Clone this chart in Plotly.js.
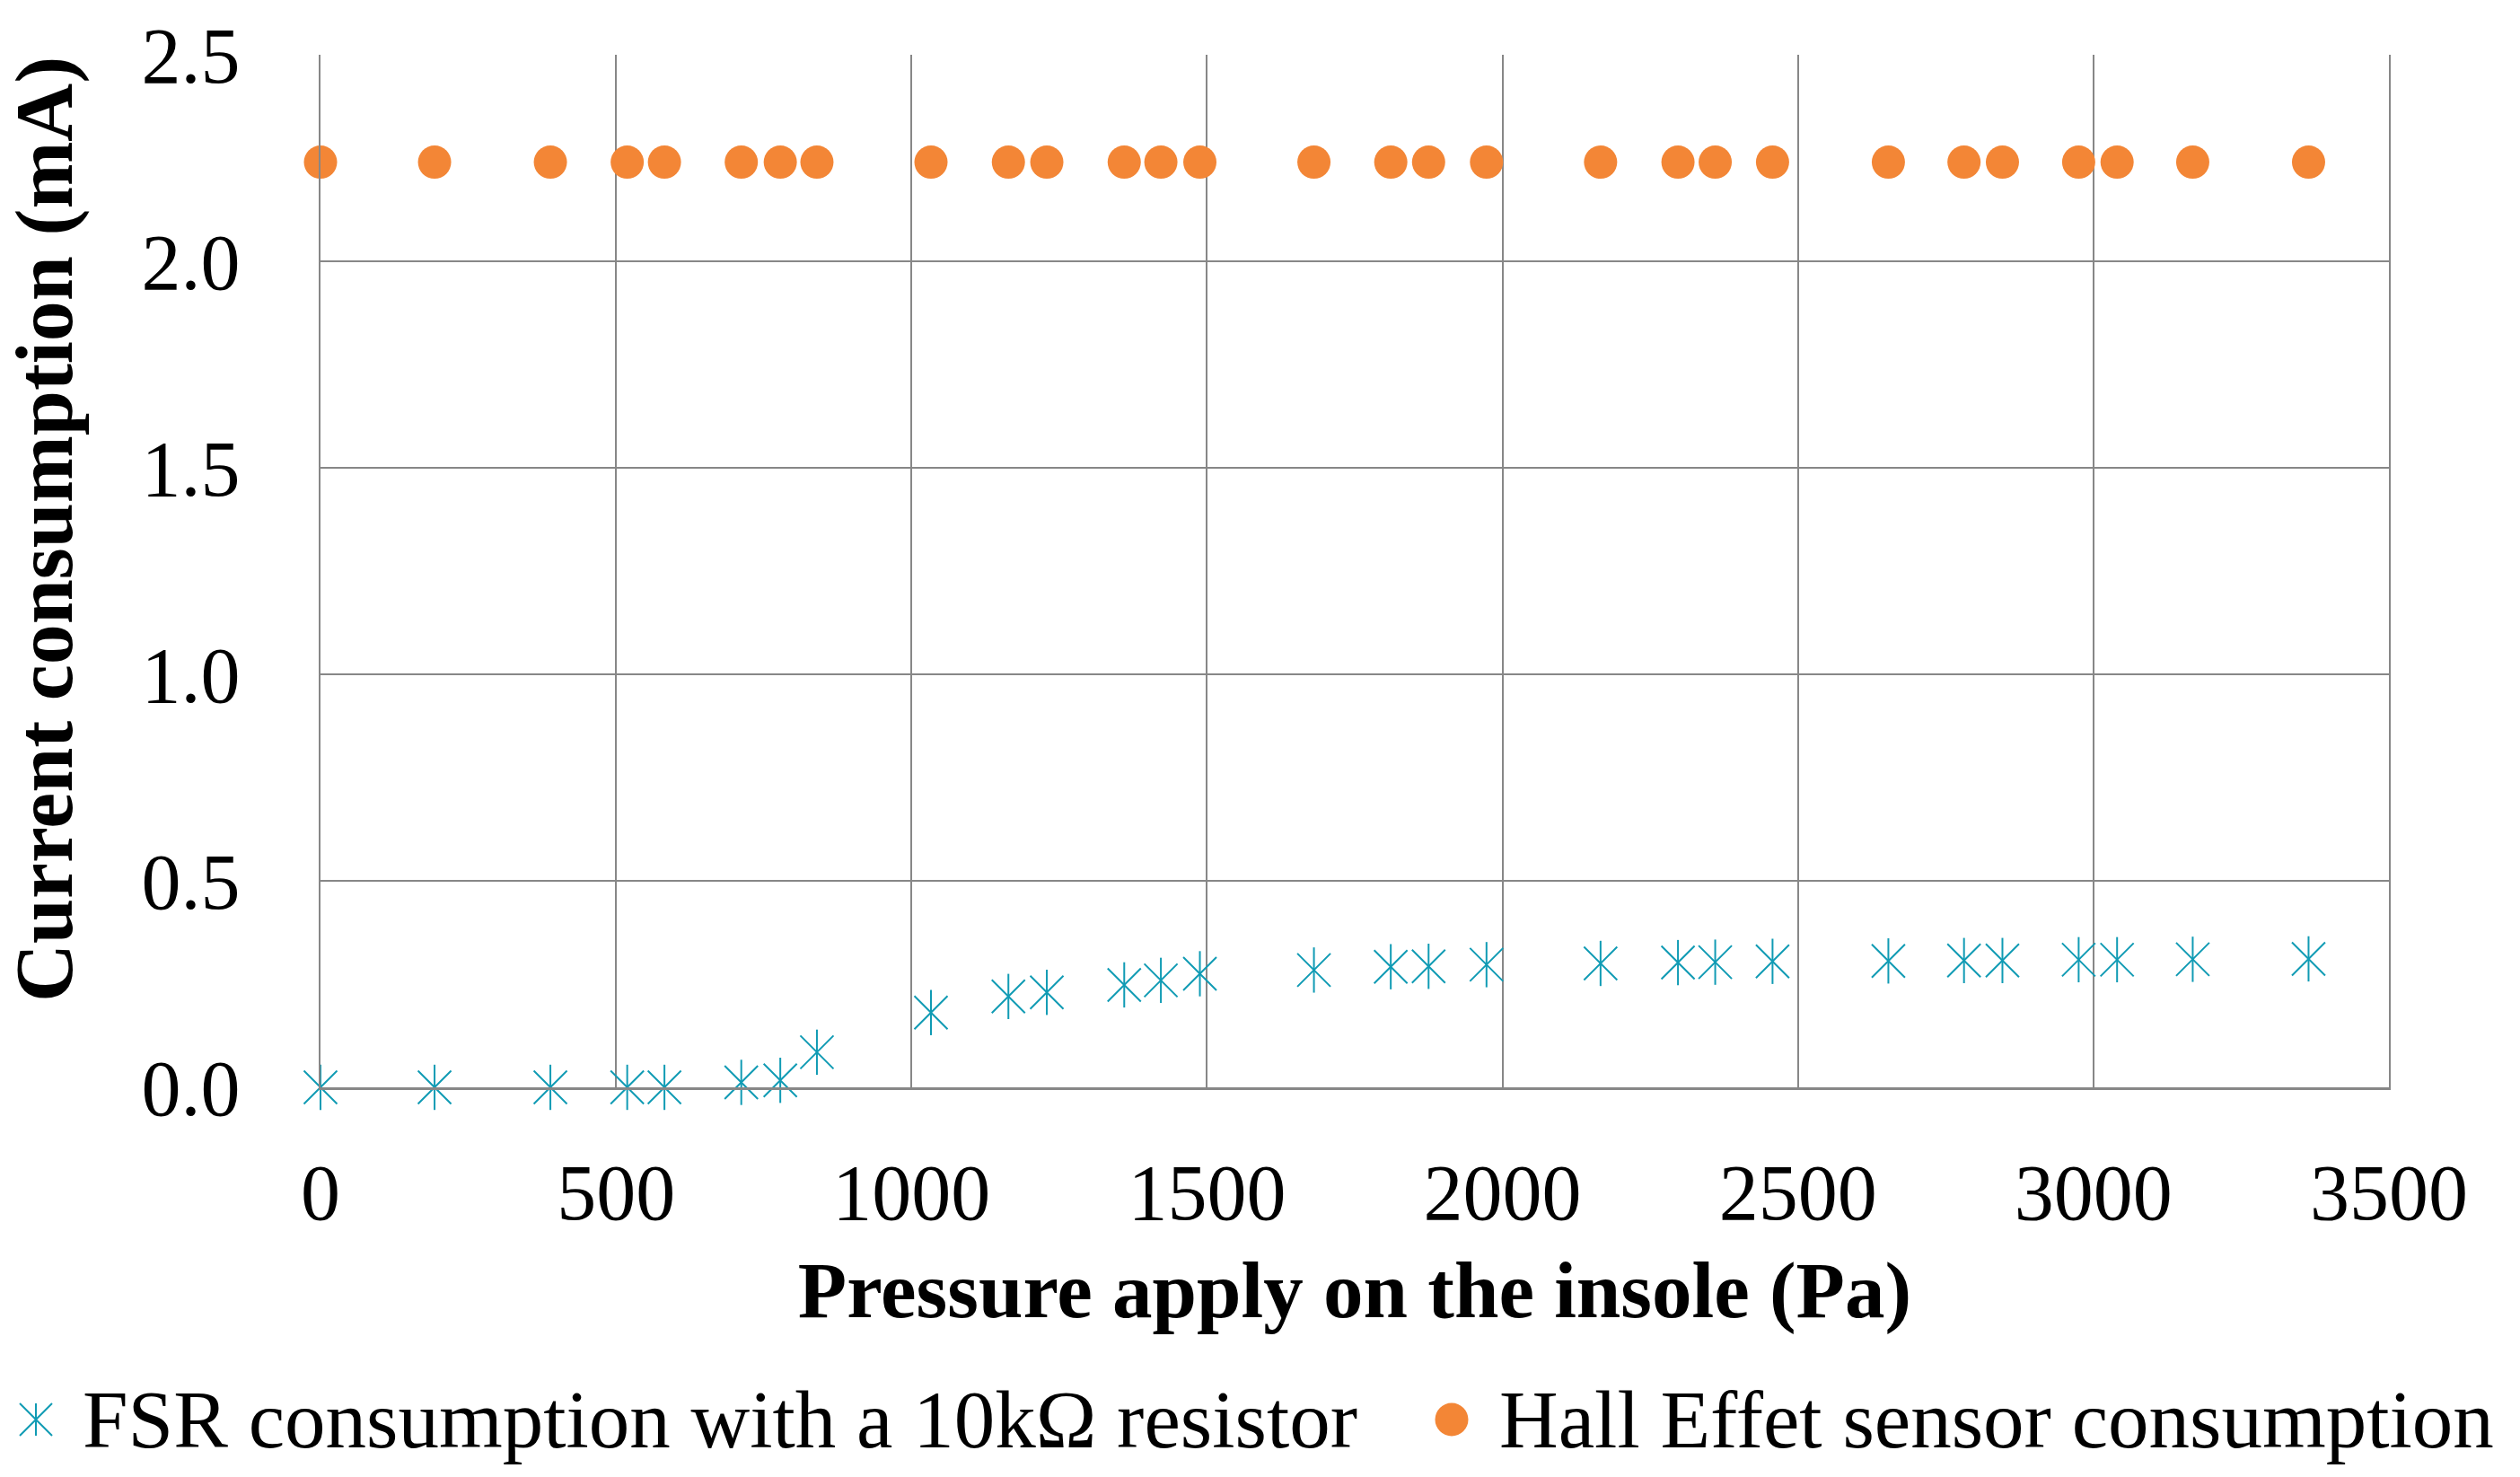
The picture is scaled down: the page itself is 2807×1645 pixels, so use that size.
<!DOCTYPE html>
<html>
<head>
<meta charset="utf-8">
<script src="https://cdn.plot.ly/plotly-3.0.1.min.js"></script>
<style>
  body { margin: 0; background: #fff; }
  #chart { width: 2807px; height: 1645px; }
</style>
</head>
<body>
<div id="chart"></div>
<script>
// pressure steps on the insole (Pa), shared by both sensors
let pressure = [0, 193, 389, 519, 582, 712, 778, 840, 1033, 1164, 1229, 1360, 1422, 1488,
    1681, 1811, 1875, 1973, 2166, 2297, 2360, 2457, 2653, 2781, 2846, 2975, 3040, 3168, 3364];

// current consumption (mA)
let fsrCurrent = [0, 0, 0, 0, 0, 0.012, 0.017, 0.085, 0.181, 0.220, 0.230, 0.248, 0.259, 0.275,
    0.284, 0.292, 0.293, 0.297, 0.300, 0.302, 0.303, 0.305, 0.306, 0.307, 0.307, 0.309, 0.309, 0.310, 0.311];
let hallCurrent = [2.24, 2.24, 2.24, 2.24, 2.24, 2.24, 2.24, 2.24, 2.24, 2.24, 2.24, 2.24, 2.24, 2.24,
    2.24, 2.24, 2.24, 2.24, 2.24, 2.24, 2.24, 2.24, 2.24, 2.24, 2.24, 2.24, 2.24, 2.24, 2.24];

let seriesNames = ["FSR consumption with a 10k\u03A9 resistor", "Hall Effet sensor consumption"];

let xTicks = [0, 500, 1000, 1500, 2000, 2500, 3000, 3500];
let yTicks = [0, 0.5, 1.0, 1.5, 2.0, 2.5];
let yTickText = ["0.0", "0.5", "1.0", "1.5", "2.0", "2.5"];

let teal = "rgb(16, 155, 180)";
let orange = "rgb(243, 134, 54)";
let grid = "#878787";
let serif = "Liberation Serif, Times New Roman, serif";

// plot area in page pixels, used to place the hand made legend and y title
let W = 2807, H = 1645;
let mL = 357, mR = 146, mT = 61, mB = 434;
let plotW = W - mL - mR, plotH = H - mT - mB;
let px = v => (v - mL) / plotW;          // page x pixel -> paper x
let py = v => (H - mB - v) / plotH;      // page y pixel -> paper y
let legendY = 1581;

let data = [
    // the X part of the star marker
    {
        type: "scatter",
        mode: "markers",
        x: pressure,
        y: fsrCurrent,
        name: seriesNames[0],
        cliponaxis: false,
        marker: { symbol: "x-thin-open", size: 37, color: teal, line: { color: teal, width: 2 } }
    },
    // vertical stroke of the star marker
    {
        type: "scatter",
        mode: "markers",
        x: pressure,
        y: fsrCurrent,
        name: seriesNames[0],
        cliponaxis: false,
        marker: { symbol: "line-ns-open", size: 36, color: teal, line: { color: teal, width: 2 } }
    },
    {
        type: "scatter",
        mode: "markers",
        x: pressure,
        y: hallCurrent,
        name: seriesNames[1],
        cliponaxis: false,
        marker: { symbol: "circle", size: 37, color: orange }
    }
];

let layout = {
    width: W,
    height: H,
    paper_bgcolor: "#fff",
    plot_bgcolor: "#fff",
    font: { family: serif, size: 88, color: "#000" },
    margin: { l: mL, r: mR, t: mT, b: mB },
    showlegend: false,
    xaxis: {
        range: [0, 3500],
        tickvals: xTicks,
        ticktext: xTicks.map(String),
        tickangle: 0,
        showgrid: true,
        gridcolor: grid,
        gridwidth: 2,
        zeroline: false,
        showline: true,
        linecolor: grid,
        linewidth: 3,
        ticks: "",
        ticklabelstandoff: 38,
        tickfont: { family: serif, size: 88 },
        automargin: true,
        title: {
            text: "<b>Pressure apply on the insole (Pa)</b>",
            font: { family: serif, size: 89 },
            standoff: 30
        }
    },
    yaxis: {
        range: [0, 2.5],
        tickvals: yTicks,
        ticktext: yTickText,
        showgrid: true,
        gridcolor: grid,
        gridwidth: 2,
        zeroline: false,
        showline: true,
        mirror: true,
        linecolor: grid,
        linewidth: 2,
        ticks: "",
        ticklabelstandoff: 70,
        tickfont: { family: serif, size: 88 },
        automargin: true
    },
    // legend drawn by hand so the symbols keep their plot size
    shapes: [
        {
            type: "path", xref: "paper", yref: "paper",
            xsizemode: "pixel", ysizemode: "pixel",
            xanchor: px(40), yanchor: py(legendY),
            path: "M-18,-18L18,18M-18,18L18,-18M0,-18L0,18",
            line: { color: teal, width: 2 }
        },
        {
            type: "circle", xref: "paper", yref: "paper",
            xsizemode: "pixel", ysizemode: "pixel",
            xanchor: px(1617), yanchor: py(legendY),
            x0: -18.5, x1: 18.5, y0: -18.5, y1: 18.5,
            fillcolor: orange, line: { width: 0 }
        }
    ],
    annotations: [
        // y axis title, placed by hand to sit a little above the plot centre like the original
        {
            xref: "paper", yref: "paper", x: px(50), y: py(590),
            xanchor: "center", yanchor: "middle", showarrow: false, textangle: -90,
            text: "<b>Current consumption (mA)</b>", font: { family: serif, size: 90 }
        },
        {
            xref: "paper", yref: "paper", x: px(90), y: py(legendY),
            xanchor: "left", yanchor: "middle", showarrow: false,
            text: seriesNames[0], font: { family: serif, size: 91 }
        },
        {
            xref: "paper", yref: "paper", x: px(1668), y: py(legendY),
            xanchor: "left", yanchor: "middle", showarrow: false,
            text: seriesNames[1], font: { family: serif, size: 91 }
        }
    ]
};

Plotly.newPlot("chart", data, layout, { staticPlot: true });
</script>
</body>
</html>
